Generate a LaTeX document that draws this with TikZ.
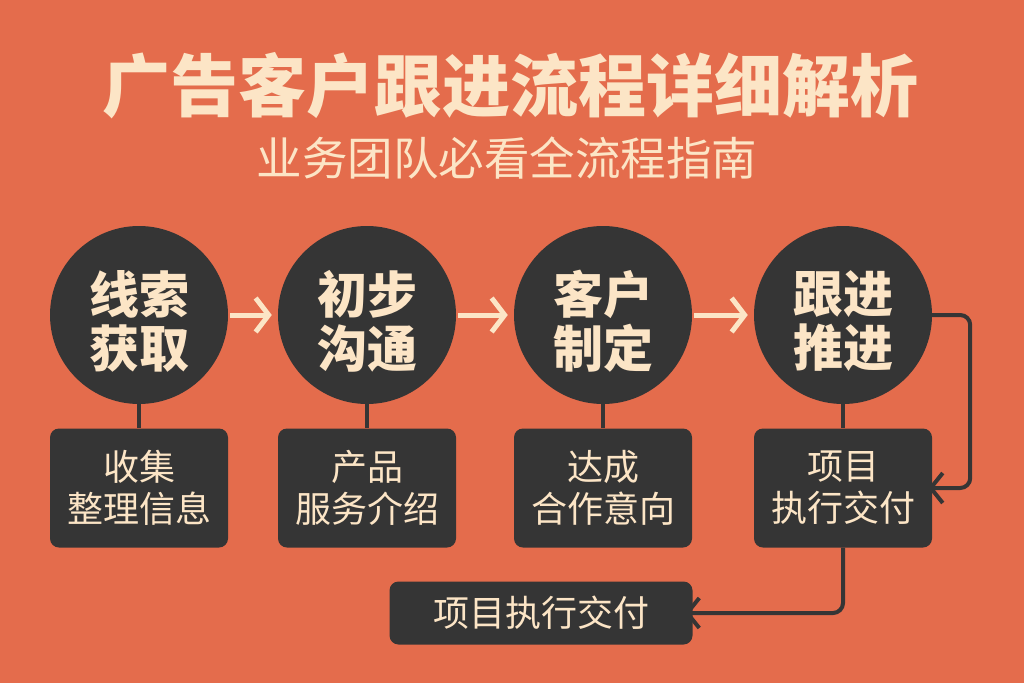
\documentclass[tikz,border=0pt]{standalone}
\usepackage{fontspec}
\newfontfamily\cjk{Noto Sans CJK SC}
\usetikzlibrary{arrows.meta}
\definecolor{bg}{HTML}{E46C4C}
\definecolor{dk}{HTML}{353535}
\definecolor{cr}{HTML}{FCE5C6}
\tikzset{
  circ/.style={circle,fill=dk,minimum size=178pt,inner sep=0pt},
  ctext/.style={text=cr,align=center,inner sep=0pt,yshift=-6pt,
    font=\cjk\bfseries\fontsize{50}{54}\selectfont},
  sbox/.style={rectangle,rounded corners=9pt,fill=dk,minimum width=178pt,minimum height=119pt,
    inner sep=0pt,text=cr,align=center,font=\cjk\fontsize{36}{42}\selectfont},
  flow/.style={draw=cr,line width=5pt,-{Straight Barb[length=13pt,width=34pt]}},
  stem/.style={draw=dk,line width=4pt},
  link/.style={draw=dk,line width=4pt,rounded corners=10pt,-{Straight Barb[length=12pt,width=30pt]}},
}
\begin{document}
\begin{tikzpicture}[x=1pt,y=-1pt]
\fill[bg] (0,0) rectangle (1024,683);
\useasboundingbox (0,0) rectangle (1024,683);
\node[text=cr,font=\cjk\bfseries\fontsize{68}{72}\selectfont] (title) at (510,86) {广告客户跟进流程详细解析};
\node[text=cr,font=\cjk\fontsize{45.5}{48}\selectfont] (sub) at (507,158) {业务团队必看全流程指南};
\node[circ,label={[ctext]center:线索\\获取}] (c1) at (139,315) {};
\node[circ,label={[ctext]center:初步\\沟通}] (c2) at (367,315) {};
\node[circ,label={[ctext]center:客户\\制定}] (c3) at (603,315) {};
\node[circ,label={[ctext]center:跟进\\推进}] (c4) at (843,315) {};
\node[sbox] (b1) at (139,488) {收集\\整理信息};
\node[sbox] (b2) at (367,488) {产品\\服务介绍};
\node[sbox] (b3) at (603,488) {达成\\合作意向};
\node[sbox] (b4) at (843,488) {项目\\执行交付};
\node[sbox,minimum width=303pt,minimum height=63pt] (bb) at (541,613) {项目执行交付};
\foreach \i in {1,...,4}{\draw[stem] (c\i.south) -- (b\i.north);}
\draw[flow,shorten <=2pt] (c1.east) -- ([xshift=-6pt]c2.west);
\draw[flow,shorten <=2pt] (c2.east) -- ([xshift=-6pt]c3.west);
\draw[flow,shorten <=2pt] (c3.east) -- ([xshift=-6pt]c4.west);
\draw[link,shorten >=-4pt] (c4.east) -- ++(38,0) |- (b4.east);
\draw[link,shorten >=-8pt] (b4.south) |- (bb.east);
\end{tikzpicture}
\end{document}
